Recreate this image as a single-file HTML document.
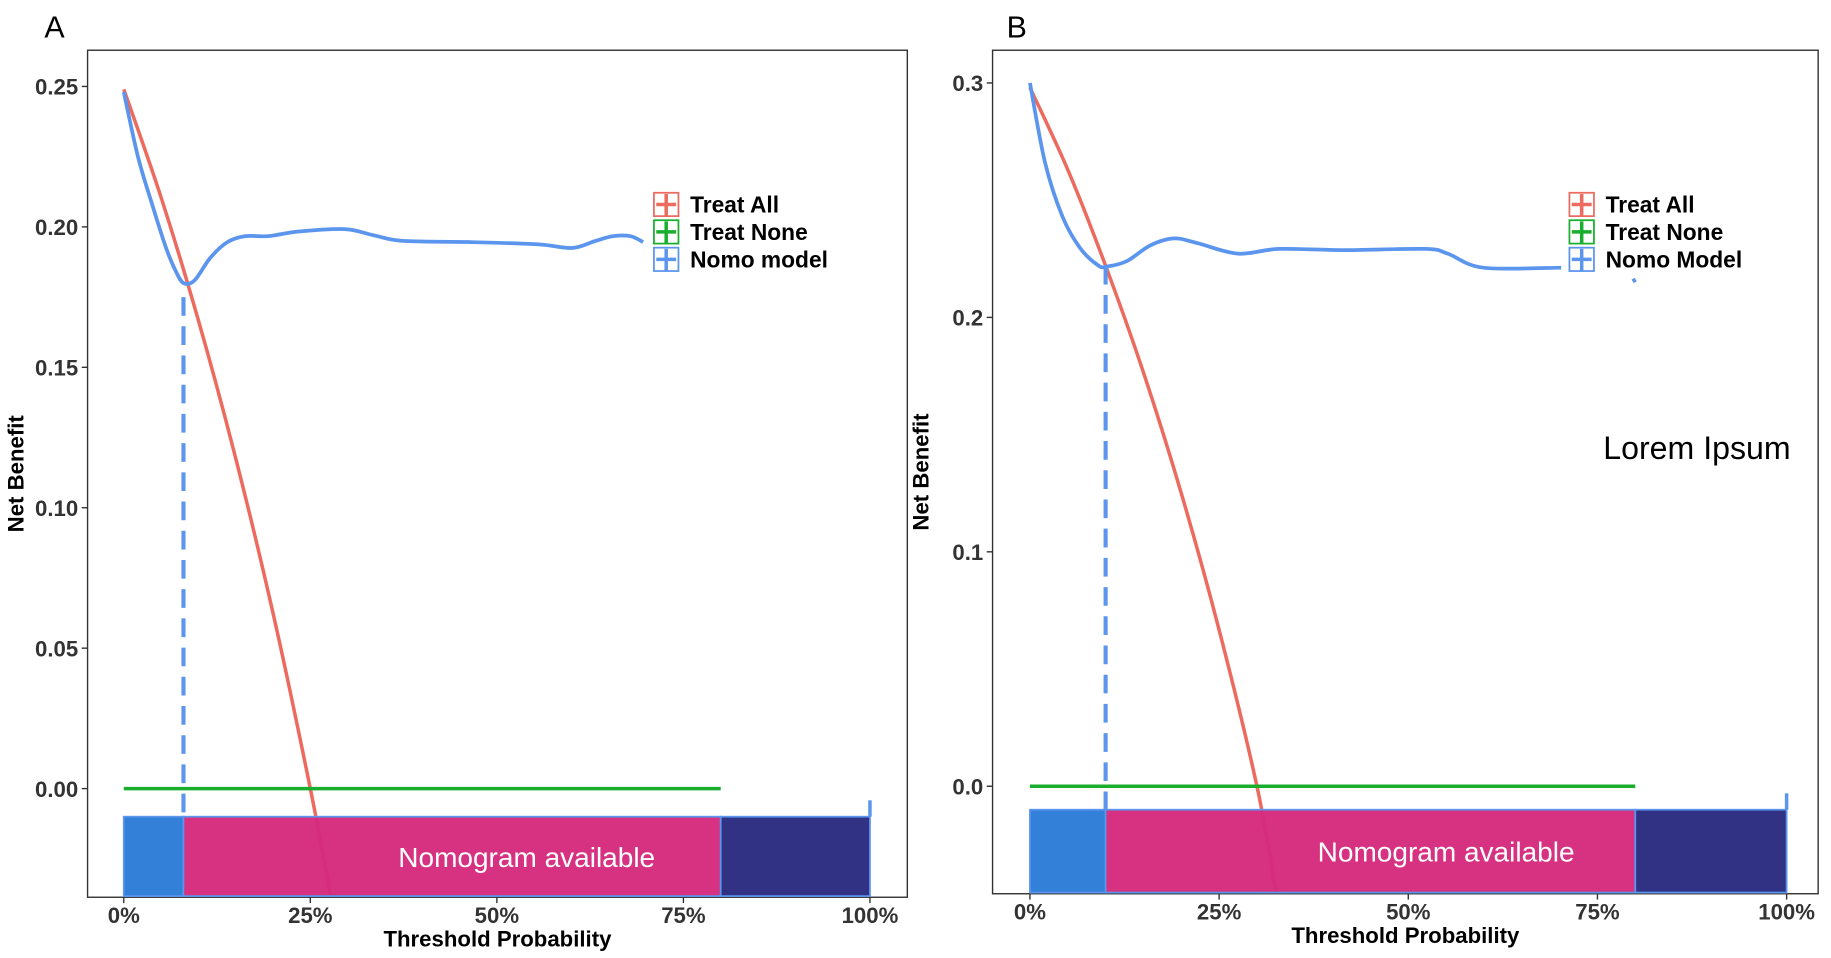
<!DOCTYPE html>
<html><head><meta charset="utf-8"><style>
html,body{margin:0;padding:0;background:#fff;}
svg{display:block;font-family:"Liberation Sans",sans-serif;}
</style></head><body>
<svg id="chart" width="1831" height="958" viewBox="0 0 1568 820" preserveAspectRatio="none" xmlns="http://www.w3.org/2000/svg"></svg>
<script>
// Panel A data
const aTreatAllT = [0,0.05,0.10,0.15,0.20,0.25,0.277];
const aTreatAllNB = [0.249,0.2105,0.1667,0.1176,0.0625,0,-0.038];
const aNomoT = [0,0.019,0.038,0.056,0.069,0.08,0.095,0.116,0.139,0.163,0.194,0.233,0.296,0.335,0.374,0.46,0.554,0.601,0.632,0.656,0.679,0.696];
const aNomoNB = [0.248,0.225,0.208,0.193,0.1846,0.180,0.181,0.189,0.1946,0.1967,0.1967,0.1983,0.1992,0.197,0.195,0.1946,0.1938,0.1925,0.195,0.1967,0.1967,0.1946];
const aYTicks = [0,0.05,0.10,0.15,0.20,0.25];
const aYLabels = ["0.00","0.05","0.10","0.15","0.20","0.25"];
const aCut = 0.08;
const aDashTop = 0.175;
// Panel B data
const bTreatAllT = [0,0.05,0.10,0.15,0.20,0.25,0.30,0.325];
const bTreatAllNB = [0.298,0.263,0.222,0.1765,0.125,0.0667,0,-0.045];
const bNomoT = [0,0.02,0.043,0.066,0.09,0.102,0.128,0.159,0.19,0.221,0.275,0.329,0.414,0.522,0.552,0.599,0.702];
const bNomoNB = [0.300,0.266,0.243,0.2297,0.2222,0.2217,0.224,0.2307,0.2337,0.2317,0.2272,0.2292,0.2287,0.2292,0.2272,0.2212,0.2212];
const bBlipT = [0.797,0.80];
const bBlipNB = [0.2165,0.215];
const bYTicks = [0,0.1,0.2,0.3];
const bYLabels = ["0.0","0.1","0.2","0.3"];
const bCut = 0.10;
const bDashTop = 0.222;
const xTicks = [0,0.25,0.5,0.75,1];
const xLabels = ["0%","25%","50%","75%","100%"];

const svg = document.getElementById('chart');
const NS = 'http://www.w3.org/2000/svg';
function mk(tag, attrs, parent){const e=document.createElementNS(NS,tag);for(const k in attrs)e.setAttribute(k,attrs[k]);(parent||svg).appendChild(e);return e;}
function txt(s, attrs, parent){const e=mk('text',attrs,parent);e.textContent=s;return e;}
function smooth(pts){
  let d='M'+pts[0][0]+','+pts[0][1];
  for(let i=0;i<pts.length-1;i++){
    const p0=pts[i-1]||pts[i],p1=pts[i],p2=pts[i+1],p3=pts[i+2]||p2;
    const c1=[p1[0]+(p2[0]-p0[0])/6,p1[1]+(p2[1]-p0[1])/6];
    const c2=[p2[0]-(p3[0]-p1[0])/6,p2[1]-(p3[1]-p1[1])/6];
    d+=` C${c1[0]},${c1[1]} ${c2[0]},${c2[1]} ${p2[0]},${p2[1]}`;
  }
  return d;
}

function panel(cfg){
  const g = mk('g',{});
  
  
  const X = t => cfg.x0 + (cfg.x1-cfg.x0)*t;
  const Y = v => cfg.y0 - (cfg.y0-cfg.yTop)*(v/cfg.vTop);
  const fr = mk('rect',{x:cfg.bx0,y:cfg.by0,width:cfg.bx1-cfg.bx0,height:cfg.by1-cfg.by0,fill:'none',stroke:'#333','stroke-width':1.2},g);
  
  
  const pl = txt(cfg.letter,{x:cfg.letterX,y:32,'font-size':26,fill:'#000'},g);
  
  
  // treat all (drawn under the band)
  const pa = smooth(cfg.taT.map((t,i)=>[X(t),Y(cfg.taNB[i])]));
  const ta = mk('path',{d:pa,fill:'none',stroke:'#ec6a5e','stroke-width':3},g);
  
  
  const bandTop = Y(-0.01), bandBot = cfg.by1-1;
  const segs = [[0,cfg.cut,'#2a7bd6','band-low'],[cfg.cut,0.8,'#d42a7c','band-nomogram-available'],[0.8,1,'#2a2a80','band-high']];
  segs.forEach(s=>{
    const r = mk('rect',{x:X(s[0]),y:bandTop,width:X(s[1])-X(s[0]),height:bandBot-bandTop,fill:s[2],'fill-opacity':0.96,stroke:'#5b95ee','stroke-width':1.5},g);
    
    
  });
  const tk = mk('line',{x1:X(1),x2:X(1),y1:bandTop-14,y2:bandTop,stroke:'#5b95ee','stroke-width':3},g);
  
  
  const na = txt('Nomogram available',{x:(X(cfg.cut)+X(1))/2,y:(bandTop+bandBot)/2+9,'text-anchor':'middle','font-size':24,fill:'#fff'},g);
  
  
  cfg.yTicks.forEach((v,i)=>{
    const l = mk('line',{x1:cfg.bx0-5,x2:cfg.bx0,y1:Y(v),y2:Y(v),stroke:'#333','stroke-width':1.2},g);
    
    
    const t = txt(cfg.yLabels[i],{x:cfg.bx0-8,y:Y(v)+7,'text-anchor':'end','font-size':19,'font-weight':'bold',fill:'#333'},g);
    
    
  });
  xTicks.forEach((v,i)=>{
    const l = mk('line',{x1:X(v),x2:X(v),y1:cfg.by1,y2:cfg.by1+5,stroke:'#333','stroke-width':1.2},g);
    
    
    const t = txt(xLabels[i],{x:X(v),y:cfg.by1+22,'text-anchor':'middle','font-size':19,'font-weight':'bold',fill:'#333'},g);
    
    
  });
  const xt = txt('Threshold Probability',{x:(cfg.bx0+cfg.bx1)/2,y:cfg.by1+42,'text-anchor':'middle','font-size':19,'font-weight':'bold',fill:'#000'},g);
  
  
  const yt = txt('Net Benefit',{x:0,y:0,'text-anchor':'middle','font-size':19,'font-weight':'bold',fill:'#000',transform:`translate(${cfg.bx0-55},${(cfg.by0+cfg.by1)/2}) rotate(-90)`},g);
  
  
  const tn = mk('line',{x1:X(0),x2:X(0.8),y1:Y(0),y2:Y(0),stroke:'#1aae2e','stroke-width':3},g);
  
  
  const dl = mk('line',{x1:X(cfg.cut),x2:X(cfg.cut),y1:Y(cfg.dashTop),y2:bandTop,stroke:'#5b95ee','stroke-width':3.5,'stroke-dasharray':'16,9'},g);
  
  
  const pn = smooth(cfg.nT.map((t,i)=>[X(t),Y(cfg.nNB[i])]));
  const nm = mk('path',{d:pn,fill:'none',stroke:'#5b95ee','stroke-width':3.2,'stroke-linejoin':'round'},g);
  
  
  if(cfg.blipT){
    const pb = cfg.blipT.map((t,i)=>X(t)+','+Y(cfg.blipNB[i])).join(' ');
    const bl = mk('polyline',{points:pb,fill:'none',stroke:'#5b95ee','stroke-width':3},g);
    
    
  }
  const items = [['Treat All','#ec6a5e'],['Treat None','#1aae2e'],[cfg.nomoLabel,'#5b95ee']];
  items.forEach((it,i)=>{
    const yy = 175 + i*23.5;
    const lg = mk('g',{},g);
    
    
    mk('rect',{x:cfg.legX,y:yy-10,width:21,height:20,fill:'#fff',stroke:it[1],'stroke-width':1.5},lg);
    mk('line',{x1:cfg.legX+2,x2:cfg.legX+19,y1:yy,y2:yy,stroke:it[1],'stroke-width':3},lg);
    mk('line',{x1:cfg.legX+10.5,x2:cfg.legX+10.5,y1:yy-9,y2:yy+10,stroke:it[1],'stroke-width':3},lg);
    txt(it[0],{x:cfg.legX+31,y:yy+7,'font-size':19.5,'font-weight':'bold',fill:'#000'},lg);
  });
}

panel({name:'panel-a',letter:'A',letterX:38,bx0:75,bx1:777,by0:43,by1:768,x0:106,x1:745,y0:675,yTop:74,vTop:0.25,
  yTicks:aYTicks,yLabels:aYLabels,taT:aTreatAllT,taNB:aTreatAllNB,nT:aNomoT,nNB:aNomoNB,cut:aCut,dashTop:aDashTop,legX:560,nomoLabel:'Nomo model'});
panel({name:'panel-b',letter:'B',letterX:862,bx0:850,bx1:1557,by0:43,by1:765,x0:882,x1:1530,y0:673,yTop:71,vTop:0.3,
  yTicks:bYTicks,yLabels:bYLabels,taT:bTreatAllT,taNB:bTreatAllNB,nT:bNomoT,nNB:bNomoNB,blipT:bBlipT,blipNB:bBlipNB,cut:bCut,dashTop:bDashTop,legX:1344,nomoLabel:'Nomo Model'});

const lorem = txt('Lorem Ipsum',{x:1373,y:393,'font-size':27.5,fill:'#000'});


</script>
</body></html>
